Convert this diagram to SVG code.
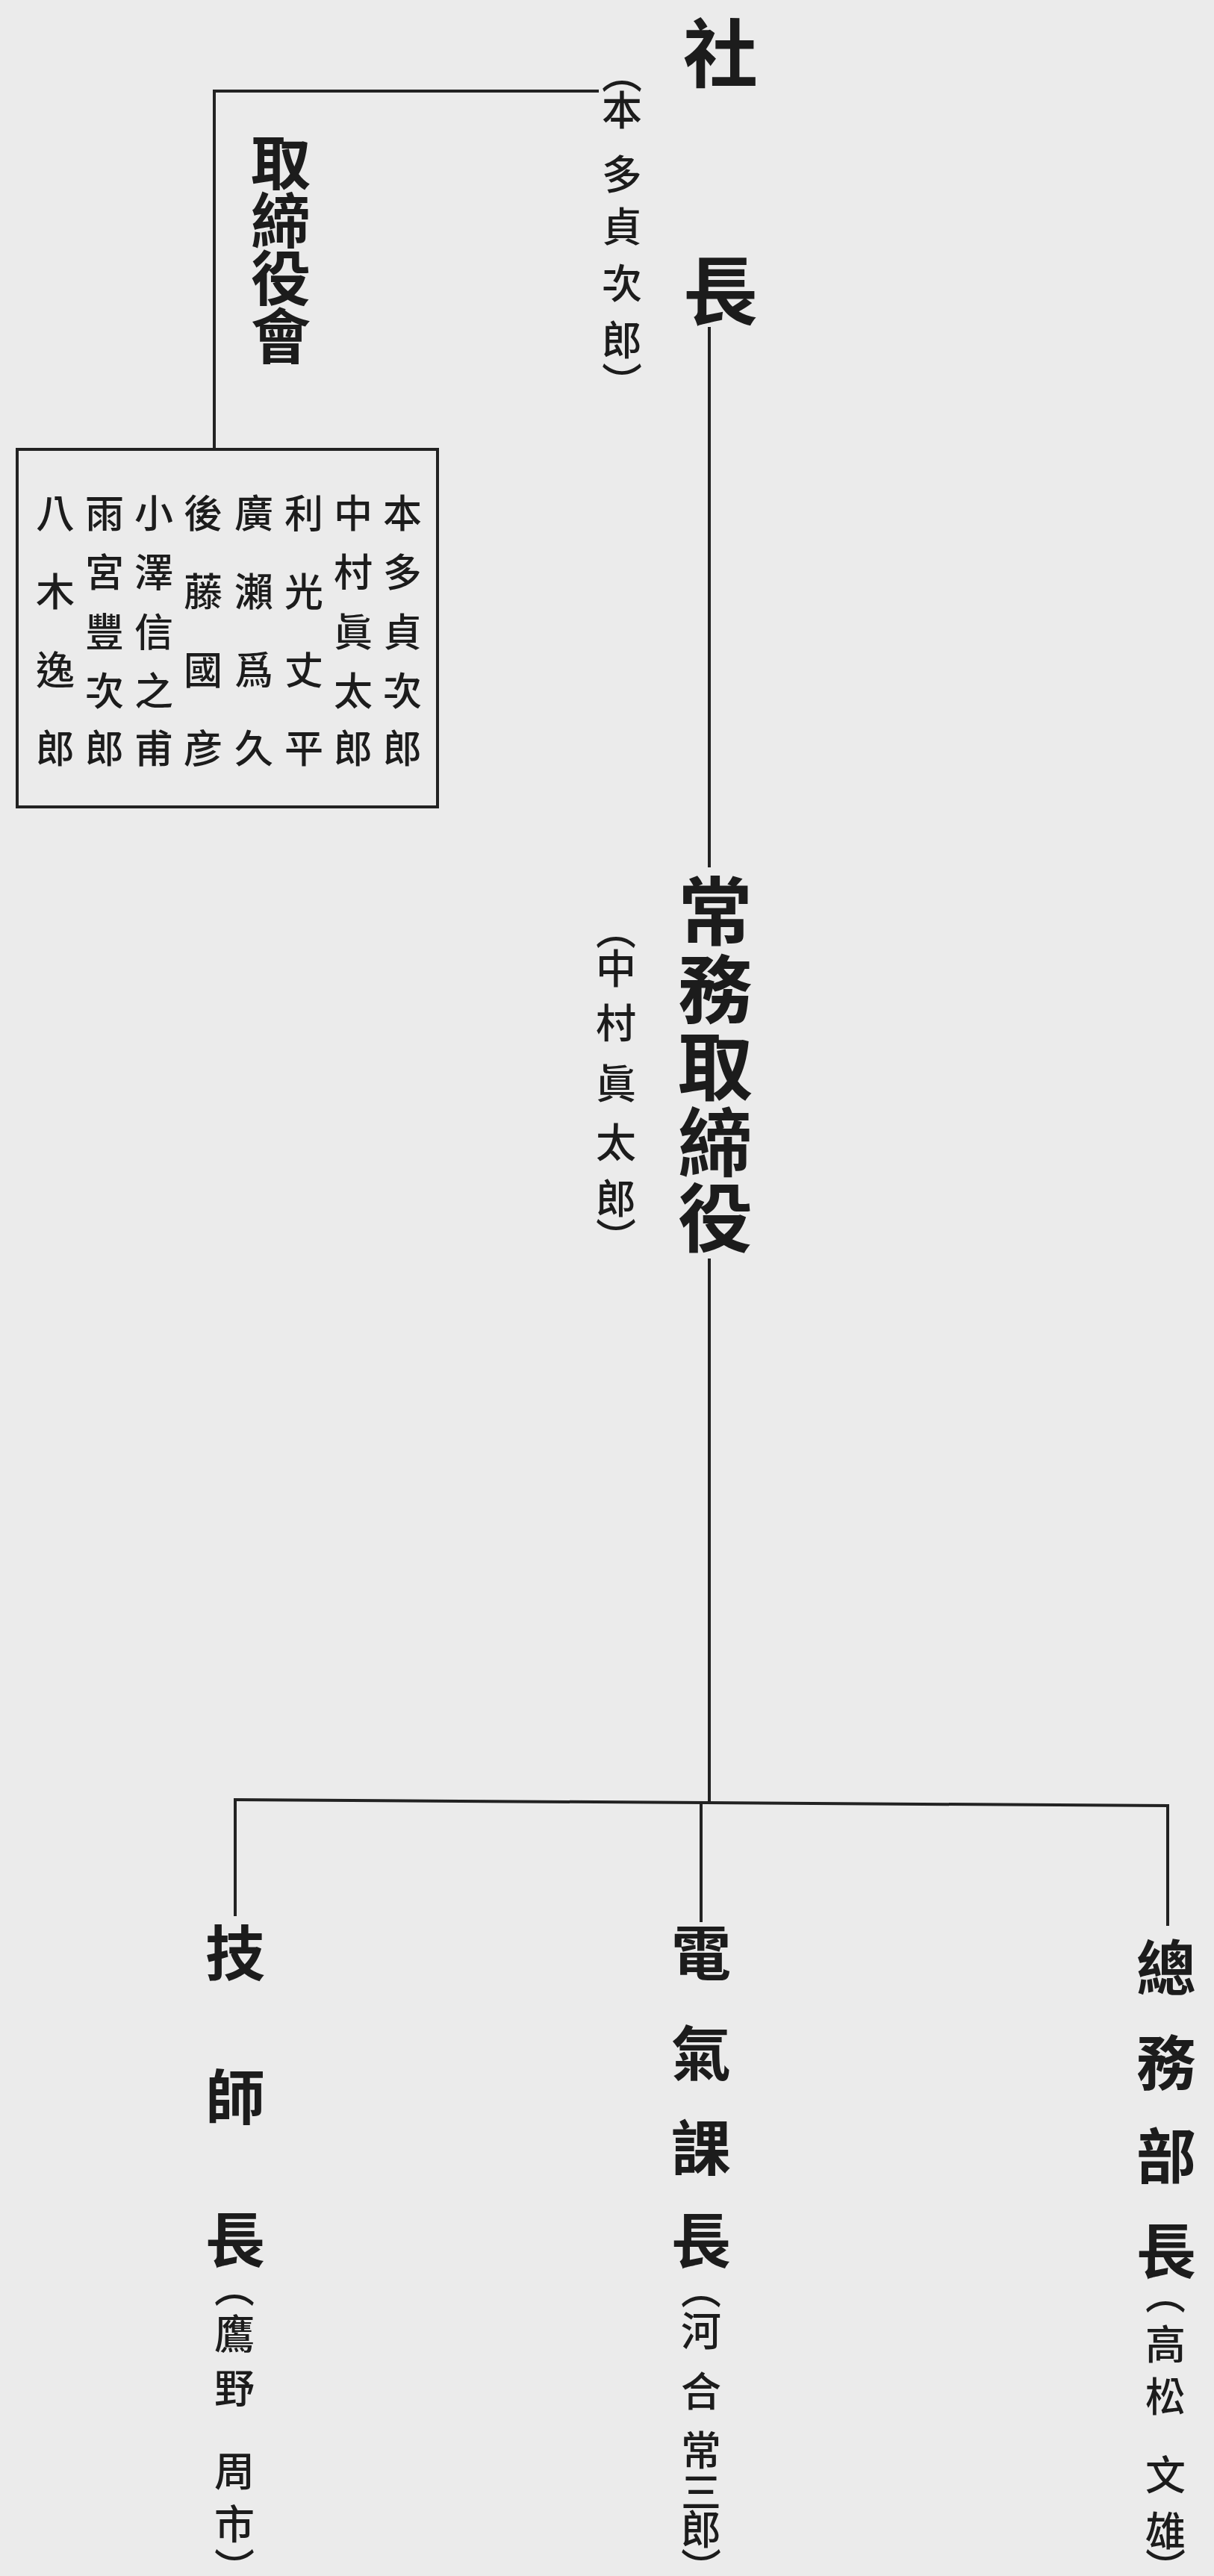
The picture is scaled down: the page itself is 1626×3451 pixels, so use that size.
<svg xmlns="http://www.w3.org/2000/svg" width="1626" height="3451" viewBox="0 0 1626 3451">
<style>
.t{font-family:"Noto Sans CJK TC","Noto Sans CJK JP",sans-serif;fill:#1c1c1c;writing-mode:vertical-rl;text-anchor:middle}
.big{font-size:100px;font-weight:700}
.mid{font-size:80px;font-weight:700}
.nm{font-size:54px;font-weight:500}
.bx{font-size:52px;font-weight:500}
.ln{stroke:#222;stroke-width:4;fill:none;stroke-linecap:square}
</style>
<rect x="0" y="0" width="1626" height="3451" fill="#ebebeb"/>
<g id="connectors">
<path class="ln" d="M287 122 H800"/>
<path class="ln" d="M287 122 V600"/>
<path class="ln" d="M950 440 V1160"/>
<path class="ln" d="M950 1688 V2412"/>
<path class="ln" d="M315 2411 L1564 2419"/>
<path class="ln" d="M315 2411 V2565"/>
<path class="ln" d="M939 2415 V2573"/>
<path class="ln" d="M1564 2419 V2578"/>
</g>
<g id="president">
<text class="t big"><tspan x="965" y="71">社</tspan><tspan x="965" y="389">長</tspan></text>
<text class="t nm"><tspan x="833" y="98">（</tspan><tspan x="833" y="147">本</tspan><tspan x="833" y="233">多</tspan><tspan x="833" y="303">貞</tspan><tspan x="833" y="379">次</tspan><tspan x="833" y="455">郎</tspan><tspan x="833" y="512">）</tspan></text>
</g>
<g id="board">
<text class="t mid"><tspan x="376" y="217">取</tspan><tspan x="376" y="295">締</tspan><tspan x="376" y="372">役</tspan><tspan x="376" y="450">會</tspan></text>
</g>
<g id="board-members">
<rect x="23" y="602" width="563" height="479" class="ln"/>
<text class="t bx"><tspan x="539" y="687">本</tspan><tspan x="539" y="766">多</tspan><tspan x="539" y="846">貞</tspan><tspan x="539" y="925">次</tspan><tspan x="539" y="1002">郎</tspan></text>
<text class="t bx"><tspan x="473" y="687">中</tspan><tspan x="473" y="766">村</tspan><tspan x="473" y="846">眞</tspan><tspan x="473" y="925">太</tspan><tspan x="473" y="1002">郎</tspan></text>
<text class="t bx"><tspan x="407" y="687">利</tspan><tspan x="407" y="792">光</tspan><tspan x="407" y="897">丈</tspan><tspan x="407" y="1002">平</tspan></text>
<text class="t bx"><tspan x="340" y="687">廣</tspan><tspan x="340" y="792">瀨</tspan><tspan x="340" y="897">爲</tspan><tspan x="340" y="1002">久</tspan></text>
<text class="t bx"><tspan x="272" y="687">後</tspan><tspan x="272" y="792">藤</tspan><tspan x="272" y="897">國</tspan><tspan x="272" y="1002">彦</tspan></text>
<text class="t bx"><tspan x="206" y="687">小</tspan><tspan x="206" y="766">澤</tspan><tspan x="206" y="846">信</tspan><tspan x="206" y="925">之</tspan><tspan x="206" y="1002">甫</tspan></text>
<text class="t bx"><tspan x="140" y="687">雨</tspan><tspan x="140" y="766">宮</tspan><tspan x="140" y="846">豐</tspan><tspan x="140" y="925">次</tspan><tspan x="140" y="1002">郎</tspan></text>
<text class="t bx"><tspan x="74" y="687">八</tspan><tspan x="74" y="792">木</tspan><tspan x="74" y="897">逸</tspan><tspan x="74" y="1002">郎</tspan></text>
</g>
<g id="managing-director">
<text class="t big"><tspan x="958" y="1220">常</tspan><tspan x="958" y="1325">務</tspan><tspan x="958" y="1428">取</tspan><tspan x="958" y="1530">締</tspan><tspan x="958" y="1631">役</tspan></text>
<text class="t nm"><tspan x="825" y="1245">（</tspan><tspan x="825" y="1297">中</tspan><tspan x="825" y="1370">村</tspan><tspan x="825" y="1451">眞</tspan><tspan x="825" y="1530">太</tspan><tspan x="825" y="1605">郎</tspan><tspan x="825" y="1658">）</tspan></text>
</g>
<g id="chief-engineer">
<text class="t mid"><tspan x="315" y="2616">技</tspan><tspan x="315" y="2809">師</tspan><tspan x="315" y="3000">長</tspan></text>
<text class="t nm"><tspan x="314" y="3064">（</tspan><tspan x="314" y="3126">鷹</tspan><tspan x="314" y="3199">野</tspan><tspan x="314" y="3310">周</tspan><tspan x="314" y="3381">市</tspan><tspan x="314" y="3440">）</tspan></text>
</g>
<g id="electrical-section">
<text class="t mid"><tspan x="939" y="2616">電</tspan><tspan x="939" y="2750">氣</tspan><tspan x="939" y="2877">課</tspan><tspan x="939" y="3001">長</tspan></text>
<text class="t nm"><tspan x="939" y="3066">（</tspan><tspan x="939" y="3122">河</tspan><tspan x="939" y="3203">合</tspan><tspan x="939" y="3282">常</tspan><tspan x="939" y="3338">三</tspan><tspan x="939" y="3388">郎</tspan><tspan x="939" y="3440">）</tspan></text>
</g>
<g id="general-affairs">
<text class="t mid"><tspan x="1562" y="2636">總</tspan><tspan x="1562" y="2763">務</tspan><tspan x="1562" y="2888">部</tspan><tspan x="1562" y="3015">長</tspan></text>
<text class="t nm"><tspan x="1561" y="3073">（</tspan><tspan x="1561" y="3140">高</tspan><tspan x="1561" y="3210">松</tspan><tspan x="1561" y="3315">文</tspan><tspan x="1561" y="3390">雄</tspan><tspan x="1561" y="3440">）</tspan></text>
</g>
</svg>
